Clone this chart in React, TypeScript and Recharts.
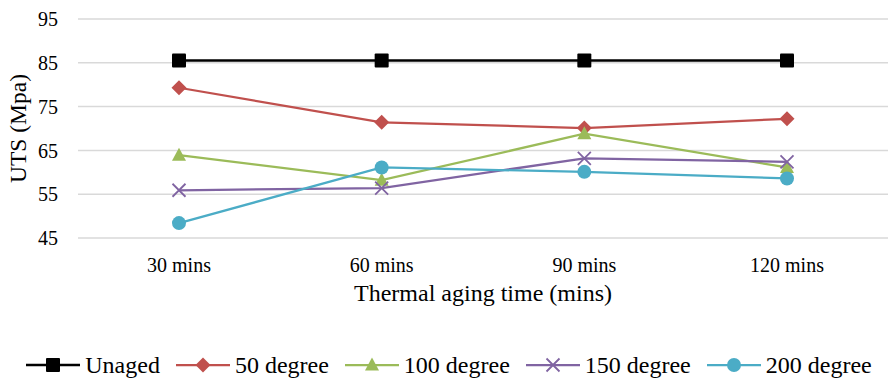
import React from "react";
import { LineChart, Line, XAxis, YAxis, CartesianGrid, Legend } from "recharts";

const FONT = "Liberation Serif";

const categories = ["30 mins", "60 mins", "90 mins", "120 mins"];
const unaged = [85.5, 85.5, 85.5, 85.5];
const deg50 = [79.3, 71.4, 70.1, 72.2];
const deg100 = [63.9, 58.2, 68.8, 61.1];
const deg150 = [55.9, 56.4, 63.2, 62.4];
const deg200 = [48.4, 61.1, 60.1, 58.6];
const yTicks = [45, 55, 65, 75, 85, 95];

type Shape = "square" | "diamond" | "triangle" | "cross" | "circle";

const SERIES: { key: string; name: string; color: string; shape: Shape; width: number }[] = [
  { key: "unaged", name: "Unaged", color: "#000000", shape: "square", width: 2.5 },
  { key: "deg50", name: "50 degree", color: "#C0504D", shape: "diamond", width: 2.25 },
  { key: "deg100", name: "100 degree", color: "#9BBB59", shape: "triangle", width: 2.25 },
  { key: "deg150", name: "150 degree", color: "#8064A2", shape: "cross", width: 2.25 },
  { key: "deg200", name: "200 degree", color: "#4BACC6", shape: "circle", width: 2.25 },
];

const data = categories.map((c, i) => ({
  cat: c,
  unaged: unaged[i],
  deg50: deg50[i],
  deg100: deg100[i],
  deg150: deg150[i],
  deg200: deg200[i],
}));

// same marker glyphs for the plotted points and the legend keys
function markerPath(shape: Shape, x: number, y: number, color: string) {
  switch (shape) {
    case "square":
      return <rect x={x - 7} y={y - 7} width={14} height={14} rx={1} fill={color} />;
    case "diamond":
      return <path d={`M${x},${y - 7.5}L${x + 7.5},${y}L${x},${y + 7.5}L${x - 7.5},${y}Z`} fill={color} />;
    case "triangle":
      return <path d={`M${x},${y - 7.5}L${x + 7},${y + 5.5}L${x - 7},${y + 5.5}Z`} fill={color} />;
    case "cross":
      return (
        <path d={`M${x - 6.5},${y - 6.5}L${x + 6.5},${y + 6.5}M${x - 6.5},${y + 6.5}L${x + 6.5},${y - 6.5}`}
          stroke={color} strokeWidth={1.8} fill="none" />
      );
    default:
      return <circle cx={x} cy={y} r={7} fill={color} />;
  }
}

const makeDot = (shape: Shape, color: string) => (props: any) => {
  const { cx, cy, index } = props;
  if (cx == null || cy == null) return <g key={index} />;
  return <g key={index}>{markerPath(shape, cx, cy, color)}</g>;
};

function LegendRow() {
  return (
    <div style={{ display: "flex", justifyContent: "center", alignItems: "center", height: 26,
      paddingLeft: 10, fontFamily: FONT, fontSize: 24, color: "#000", whiteSpace: "nowrap" }}>
      {SERIES.map((s, i) => (
        <div key={s.key} style={{ display: "flex", alignItems: "center", marginLeft: i ? 16 : 0 }}>
          <svg width={54} height={20} style={{ marginRight: 5 }}>
            <line x1={0} y1={10} x2={54} y2={10} stroke={s.color} strokeWidth={s.width} />
            {markerPath(s.shape, 27, 10, s.color)}
          </svg>
          <span>{s.name}</span>
        </div>
      ))}
    </div>
  );
}

export default function App() {
  return (
    <div style={{ position: "absolute", left: 0, top: 0, width: 888, height: 378, background: "#fff",
      fontFamily: FONT }}>
      <LineChart width={888} height={378} data={data}
        margin={{ top: 19, right: 0, bottom: 0, left: 0 }}>
        <CartesianGrid vertical={false} stroke="#d9d9d9" strokeWidth={1.5} />
        <XAxis dataKey="cat" axisLine={false} tickLine={false} height={114} tickMargin={14}
          padding={{ left: 101, right: 101 }}
          tick={{ fill: "#000", fontSize: 20, fontFamily: FONT }}
          label={{ value: "Thermal aging time (mins)", position: "insideTop", offset: 46,
            fill: "#000", fontSize: 24, fontFamily: FONT }} />
        <YAxis domain={[45, 95]} ticks={yTicks} axisLine={false} tickLine={false} width={78}
          tickSize={0} tickMargin={20} interval={0}
          tick={{ fill: "#000", fontSize: 20, fontFamily: FONT }}
          label={{ value: "UTS (Mpa)", angle: -90, position: "insideLeft", offset: 18,
            fill: "#000", fontSize: 23.5, fontFamily: FONT, style: { textAnchor: "middle" } }} />
        <Legend verticalAlign="bottom" content={() => <LegendRow />} />
        {SERIES.map((s) => (
          <Line key={s.key} type="linear" dataKey={s.key} name={s.name} stroke={s.color}
            strokeWidth={s.width} dot={makeDot(s.shape, s.color)} activeDot={false}
            isAnimationActive={false} />
        ))}
      </LineChart>
    </div>
  );
}
